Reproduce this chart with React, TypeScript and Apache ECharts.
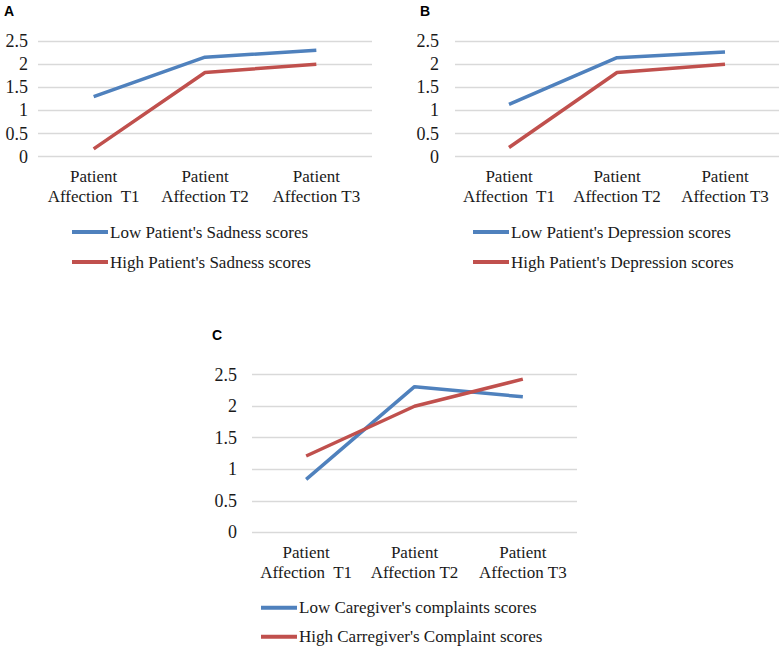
import React, { useEffect, useRef } from "react";
import * as echarts from "echarts";

const categories = ["Patient\nAffection  T1", "Patient\nAffection T2", "Patient\nAffection T3"];
const yTicks = [0, 0.5, 1, 1.5, 2, 2.5];

const lowSadness = [1.3, 2.15, 2.3];
const highSadness = [0.17, 1.82, 2.0];
const lowDepression = [1.13, 2.14, 2.26];
const highDepression = [0.2, 1.82, 2.0];
const lowComplaints = [0.84, 2.31, 2.15];
const highComplaints = [1.21, 2.0, 2.43];

const namesA = ["Low Patient's Sadness scores", "High Patient's Sadness scores"];
const namesB = ["Low Patient's Depression scores", "High Patient's Depression scores"];
const namesC = ["Low Caregiver's complaints scores", "High Carregiver's Complaint scores"];

const BLUE = "#4F81BD";
const RED = "#C0504D";
const SERIF = "Liberation Serif, serif";

export default function App() {
  const ref = useRef<HTMLDivElement>(null);
  useEffect(() => {
    document.body.style.margin = "0";
    const chart = echarts.init(ref.current!, null, { renderer: "svg" });
    const grids = [
      { left: 38, top: 41, width: 334, height: 115.7 },
      { left: 455, top: 41, width: 324, height: 115.7 },
      { left: 252, top: 374.7, width: 325, height: 157.6 },
    ];
    const yMargins = [10, 16, 15];
    const xAxes = grids.map((_, i) => ({
      type: "category",
      gridIndex: i,
      data: categories,
      boundaryGap: true,
      axisLine: { show: false },
      axisTick: { show: false },
      axisLabel: {
        interval: 0,
        margin: 10,
        fontFamily: SERIF,
        fontSize: 17,
        lineHeight: 20,
        color: "#1a1a1a",
      },
    }));
    const yAxes = grids.map((_, i) => ({
      type: "value",
      gridIndex: i,
      min: yTicks[0],
      max: yTicks[yTicks.length - 1],
      interval: 0.5,
      axisLine: { show: false },
      axisTick: { show: false },
      splitLine: { show: true, lineStyle: { color: "#D9D9D9", width: 1.3 } },
      axisLabel: {
        margin: yMargins[i],
        fontFamily: SERIF,
        fontSize: 18,
        color: "#1a1a1a",
      },
    }));
    const mk = (name: string, data: number[], idx: number, color: string) => ({
      name,
      type: "line",
      xAxisIndex: idx,
      yAxisIndex: idx,
      data,
      symbol: "none",
      showSymbol: false,
      color,
      lineStyle: { color, width: 3.5 },
      z: color === BLUE ? 2 : 3,
    });
    const legendBase = {
      orient: "vertical",
      icon: "rect",
      itemWidth: 36,
      itemHeight: 4,
      itemGap: 13,
      padding: 0,
      selectedMode: false,
      textStyle: {
        fontFamily: SERIF,
        fontSize: 17,
        color: "#1a1a1a",
        padding: [0, 0, 0, -3],
      },
    };
    chart.setOption({
      animation: false,
      grid: grids.map((g) => ({ ...g, outerBoundsMode: "none", containLabel: false })),
      xAxis: xAxes,
      yAxis: yAxes,
      legend: [
        { ...legendBase, data: namesA, left: 72, top: 223.5 },
        { ...legendBase, data: namesB, left: 473, top: 223.5 },
        { ...legendBase, data: namesC, left: 261, top: 599.2, itemGap: 12 },
      ],
      graphic: [
        { type: "text", left: 4, top: 4, style: { text: "A", font: "bold 14px 'Liberation Sans', Arial, sans-serif", fill: "#000" } },
        { type: "text", left: 420, top: 4, style: { text: "B", font: "bold 14px 'Liberation Sans', Arial, sans-serif", fill: "#000" } },
        { type: "text", left: 212, top: 328, style: { text: "C", font: "bold 14px 'Liberation Sans', Arial, sans-serif", fill: "#000" } },
      ],
      series: [
        mk(namesA[0], lowSadness, 0, BLUE),
        mk(namesA[1], highSadness, 0, RED),
        mk(namesB[0], lowDepression, 1, BLUE),
        mk(namesB[1], highDepression, 1, RED),
        mk(namesC[0], lowComplaints, 2, BLUE),
        mk(namesC[1], highComplaints, 2, RED),
      ],
    });
    return () => chart.dispose();
  }, []);
  return <div ref={ref} style={{ width: 782, height: 649 }} />;
}
